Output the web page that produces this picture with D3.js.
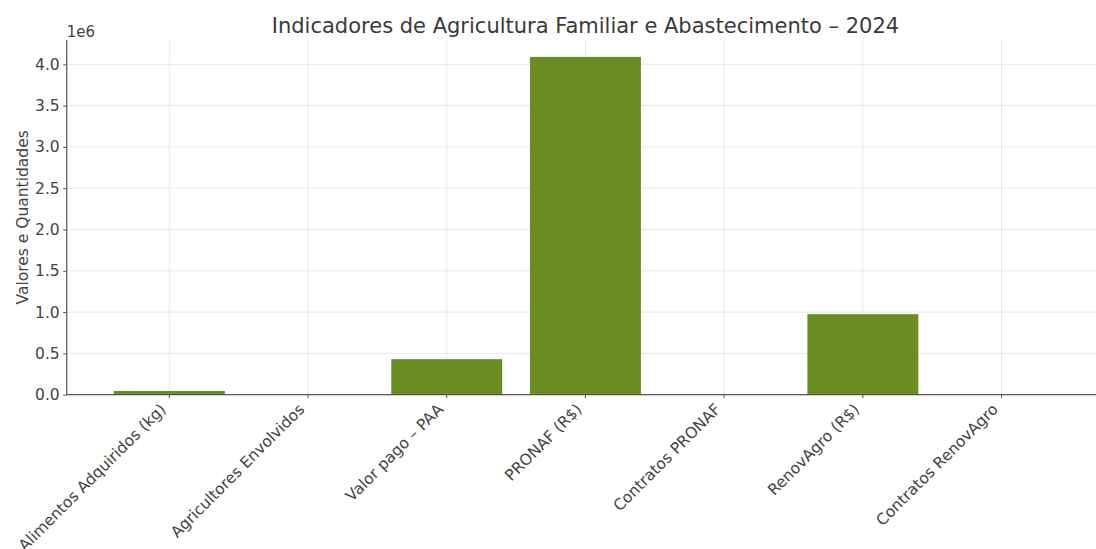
<!DOCTYPE html>
<html>
<head>
<meta charset="utf-8">
<script src="https://cdn.jsdelivr.net/npm/d3@7"></script>
<style>
  html, body { margin: 0; padding: 0; background: #fff; }
  svg { display: block; font-family: "DejaVu Sans", sans-serif; }
</style>
</head>
<body>
<svg id="chart" width="1096" height="549"></svg>
<script>
const categories = [
  "Alimentos Adquiridos (kg)",
  "Agricultores Envolvidos",
  "Valor pago – PAA",
  "PRONAF (R$)",
  "Contratos PRONAF",
  "RenovAgro (R$)",
  "Contratos RenovAgro"
];
const values = [45000, 2500, 430000, 4090000, 3000, 975000, 150];
const yTicks = [0, 0.5e6, 1.0e6, 1.5e6, 2.0e6, 2.5e6, 3.0e6, 3.5e6, 4.0e6];
const titleText = "Indicadores de Agricultura Familiar e Abastecimento – 2024";
const yLabel = "Valores e Quantidades";
const offsetText = "1e6";

(function () {
const svg = d3.select("#chart");
const mLeft = 66.7, mRight = 1104.2, mTop = 40, mBottom = 394.7;
const fs = "15.5px";

const x = d3.scaleBand()
  .domain(categories)
  .range([mLeft, mRight])
  .paddingInner(0.2)
  .paddingOuter(0.34);

const yMax = d3.max(values) * 1.05;
const y = d3.scaleLinear().domain([0, yMax]).range([mBottom, mTop]);

// grid
const grid = svg.append("g");
grid.selectAll("line.h").data(yTicks).join("line")
  .attr("x1", mLeft).attr("x2", mRight)
  .attr("y1", d => y(d)).attr("y2", d => y(d))
  .attr("stroke", "#e8e8e8").attr("stroke-width", 1);
grid.selectAll("line.v").data(categories).join("line")
  .attr("x1", d => x(d) + x.bandwidth() / 2).attr("x2", d => x(d) + x.bandwidth() / 2)
  .attr("y1", mTop).attr("y2", mBottom)
  .attr("stroke", "#e8e8e8").attr("stroke-width", 1);

// bars
svg.append("g").selectAll("rect").data(categories).join("rect")
  .attr("x", d => x(d))
  .attr("width", x.bandwidth())
  .attr("y", (d, i) => y(values[i]))
  .attr("height", (d, i) => y(0) - y(values[i]))
  .attr("fill", "#6b8e23");

// axes
const yAxis = d3.axisLeft(y).tickValues(yTicks)
  .tickFormat(d => (d / 1e6).toFixed(1)).tickSize(3.5).tickPadding(3.5);
const gy = svg.append("g").attr("transform", `translate(${mLeft},0)`).call(yAxis);
gy.select(".domain").attr("d", `M0,${mTop}V${mBottom}`).attr("stroke", "#555").attr("stroke-width", 1.2);
gy.selectAll(".tick line").attr("stroke", "#555");
gy.selectAll(".tick text").attr("fill", "#444").style("font-size", fs).style("font-family", "DejaVu Sans");

const xAxis = d3.axisBottom(x).tickSize(3.5).tickPadding(3.5);
const gx = svg.append("g").attr("transform", `translate(0,${mBottom})`).call(xAxis);
gx.select(".domain").attr("d", `M${mLeft},0H${mRight}`).attr("stroke", "#555").attr("stroke-width", 1.2);
gx.selectAll(".tick line").attr("stroke", "#555");
gx.selectAll(".tick text")
  .attr("fill", "#444")
  .style("font-size", fs).style("font-family", "DejaVu Sans")
  .attr("text-anchor", "end")
  .attr("x", 0).attr("y", 0).attr("dy", 0)
  .attr("transform", "translate(-2.6,15.5) rotate(-45)");

// offset text
svg.append("text").attr("x", mLeft).attr("y", 37)
  .attr("fill", "#444").style("font-size", "15px").text(offsetText);

// y label
svg.append("text")
  .attr("transform", `translate(28,${(mTop + mBottom) / 2}) rotate(-90)`)
  .attr("text-anchor", "middle").attr("fill", "#444").style("font-size", fs)
  .text(yLabel);

// title
svg.append("text").attr("x", (mLeft + mRight) / 2).attr("y", 33)
  .attr("text-anchor", "middle").attr("fill", "#3a3a3a").style("font-size", "21px")
  .text(titleText);
})();
</script>
</body>
</html>
